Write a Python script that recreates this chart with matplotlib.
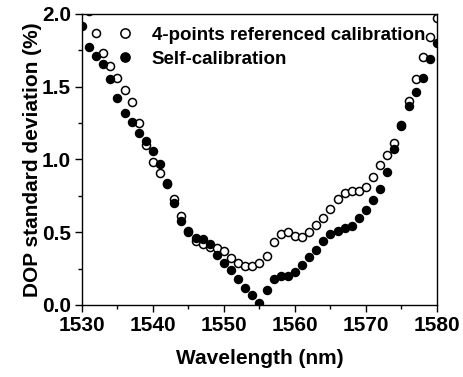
import numpy as np
import matplotlib
matplotlib.use("Agg")
import matplotlib.pyplot as plt
from matplotlib.ticker import MultipleLocator, FormatStrFormatter

plt.rcParams['font.family'] = ['Liberation Sans', 'DejaVu Sans']
plt.rcParams['font.weight'] = 'bold'

wavelength = list(range(1530, 1581))

referenced_4pt = [np.nan, 2.02, 1.87, 1.73, 1.64, 1.56, 1.48, 1.395, 1.25, 1.10,
                  0.98, 0.91, 0.83, 0.73, 0.61, 0.51, 0.44, 0.42, 0.40, 0.39,
                  0.37, 0.32, 0.29, 0.265, 0.27, 0.29, 0.34, 0.43, 0.49, 0.505,
                  0.476, 0.467, 0.50, 0.547, 0.60, 0.66, 0.73, 0.77, 0.78, 0.78,
                  0.81, 0.88, 0.96, 1.03, 1.115, 1.24, 1.40, 1.55, 1.705, 1.84,
                  1.97]

self_cal = [1.92, 1.77, 1.71, 1.655, 1.55, 1.42, 1.32, 1.255, 1.18, 1.13,
            1.057, 0.97, 0.84, 0.70, 0.58, 0.50, 0.46, 0.455, 0.42, 0.345,
            0.29, 0.24, 0.18, 0.115, 0.07, 0.016, 0.10, 0.18, 0.20, 0.20,
            0.225, 0.276, 0.33, 0.375, 0.44, 0.485, 0.51, 0.53, 0.545, 0.60,
            0.65, 0.72, 0.80, 0.915, 1.075, 1.23, 1.37, 1.465, 1.56, 1.69,
            1.80]

labels = ["4-points referenced calibration", "Self-calibration"]

fig = plt.figure(figsize=(4.64, 3.77), dpi=100)
ax = fig.add_axes([0.1767, 0.191, 0.765, 0.772])

ax.plot(wavelength, referenced_4pt, 'o', mfc='white', mec='black', mew=1.1,
        ms=5.8, label=labels[0], zorder=2)
ax.plot(wavelength, self_cal, 'o', mfc='black', mec='black', mew=1.0,
        ms=5.8, label=labels[1], zorder=3)

ax.set_xlim(1530, 1580)
ax.set_ylim(0.0, 2.0)
ax.xaxis.set_major_locator(MultipleLocator(10))
ax.xaxis.set_minor_locator(MultipleLocator(5))
ax.yaxis.set_major_locator(MultipleLocator(0.5))
ax.yaxis.set_minor_locator(MultipleLocator(0.25))
ax.yaxis.set_major_formatter(FormatStrFormatter('%.1f'))
ax.tick_params(which='major', direction='out', length=5, width=1.0,
               labelsize=15, pad=3, top=False, right=False)
ax.tick_params(which='minor', direction='out', length=3, width=1.0,
               top=False, right=False)
for lab in ax.get_xticklabels() + ax.get_yticklabels():
    lab.set_fontweight('bold')
for s in ax.spines.values():
    s.set_linewidth(1.0)

ax.set_xlabel("Wavelength (nm)", fontsize=15, fontweight='bold', labelpad=10)
ax.set_ylabel("DOP standard deviation (%)", fontsize=15, fontweight='bold', labelpad=0)

leg = ax.legend(loc='upper left', bbox_to_anchor=(0.075, 0.983), frameon=False,
                fontsize=13.5, handletextpad=0.9, labelspacing=0.38,
                handlelength=1.0, borderaxespad=0.0, markerscale=1.15)
for t in leg.get_texts():
    t.set_fontweight('bold')

fig.savefig("out.png", dpi=100)
